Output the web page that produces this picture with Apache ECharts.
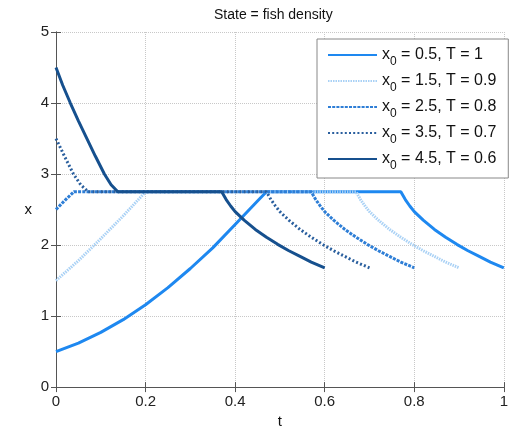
<!DOCTYPE html>
<html><head><meta charset="utf-8">
<script src="https://cdn.jsdelivr.net/npm/echarts@6/dist/echarts.min.js"></script>
<style>html,body{margin:0;padding:0;background:#fff}#c{width:511px;height:434px}</style>
</head><body><div id="c"></div>
<script>
// Tick values
const xTicks = [0, 0.2, 0.4, 0.6, 0.8, 1];
const yTicks = [0, 1, 2, 3, 4, 5];
const titleText = 'State = fish density';
const xName = 't';
const yName = 'x';

// Legend pieces
const legendX0 = ['0.5', '1.5', '2.5', '3.5', '4.5'];
const legendT = ['1', '0.9', '0.8', '0.7', '0.6'];

// Series 1: x0 = 0.5, T = 1
const t1 = [0, 0.05, 0.1, 0.15, 0.2, 0.25, 0.3, 0.35, 0.4, 0.45, 0.47, 0.77, 0.78, 0.79, 0.80, 0.82, 0.845, 0.87, 0.895, 0.92, 0.945, 0.97, 1.0];
const x1 = [0.5, 0.62, 0.77, 0.95, 1.16, 1.40, 1.67, 1.96, 2.29, 2.62, 2.75, 2.75, 2.64, 2.55, 2.47, 2.35, 2.22, 2.11, 2.01, 1.92, 1.84, 1.76, 1.68];
// Series 2: x0 = 1.5, T = 0.9
const t2 = [0, 0.05, 0.1, 0.15, 0.2, 0.67, 0.68, 0.69, 0.70, 0.72, 0.745, 0.77, 0.795, 0.82, 0.845, 0.87, 0.9];
const x2 = [1.5, 1.78, 2.09, 2.41, 2.75, 2.75, 2.64, 2.55, 2.47, 2.35, 2.22, 2.11, 2.01, 1.92, 1.84, 1.76, 1.68];
// Series 3: x0 = 2.5, T = 0.8
const t3 = [0, 0.02, 0.04, 0.57, 0.58, 0.59, 0.60, 0.62, 0.645, 0.67, 0.695, 0.72, 0.745, 0.77, 0.8];
const x3 = [2.5, 2.63, 2.75, 2.75, 2.64, 2.55, 2.47, 2.35, 2.22, 2.11, 2.01, 1.92, 1.84, 1.76, 1.68];
// Series 4: x0 = 3.5, T = 0.7
const t4 = [0, 0.019, 0.039, 0.055, 0.072, 0.47, 0.48, 0.49, 0.50, 0.52, 0.545, 0.57, 0.595, 0.62, 0.645, 0.67, 0.7];
const x4 = [3.5, 3.25, 3.0, 2.85, 2.75, 2.75, 2.64, 2.55, 2.47, 2.35, 2.22, 2.11, 2.01, 1.92, 1.84, 1.76, 1.68];
// Series 5: x0 = 4.5, T = 0.6
const t5 = [0, 0.015, 0.032, 0.05, 0.069, 0.088, 0.108, 0.123, 0.138, 0.37, 0.38, 0.39, 0.40, 0.42, 0.445, 0.47, 0.495, 0.52, 0.545, 0.57, 0.6];
const x5 = [4.5, 4.25, 4.0, 3.75, 3.5, 3.25, 3.0, 2.85, 2.75, 2.75, 2.64, 2.55, 2.47, 2.35, 2.22, 2.11, 2.01, 1.92, 1.84, 1.76, 1.68];

const allT = [t1, t2, t3, t4, t5];
const allX = [x1, x2, x3, x4, x5];
const colors = ['#1E88F0', '#A9D1F5', '#2E7ED6', '#2A5F9E', '#16508E'];
const dashes = ['solid', [1.5, 1], [3, 1.2], [2, 2.2], 'solid'];
const widths = [3, 3, 3, 3, 3];

const FONT = '"Liberation Sans", Arial, Helvetica, sans-serif';
const names = legendX0.map((v, i) => 'x0 = ' + v + ', T = ' + legendT[i]);

const series = allT.map((ts, i) => ({
  name: names[i],
  type: 'line',
  data: ts.map((t, j) => [t, allX[i][j]]),
  symbol: 'none',
  showSymbol: false,
  animation: false,
  lineStyle: { color: colors[i], width: widths[i], type: dashes[i] },
  itemStyle: { color: colors[i] }
}));

const axisCommonLine = { lineStyle: { color: '#555', width: 1 } };
const tickCommon = { inside: true, length: 5, lineStyle: { color: '#555' } };

const chart = echarts.init(document.getElementById('c'));
chart.setOption({
  backgroundColor: '#fff',
  animation: false,
  title: {
    text: titleText, left: 214, top: 8, padding: 0,
    textStyle: { fontFamily: FONT, fontSize: 14, fontWeight: 'normal', color: '#111' }
  },
  grid: { left: 56, right: 7, top: 32, bottom: 40, containLabel: false },
  legend: {
    orient: 'vertical', left: 317, top: 39,
    padding: [8, 12, 6, 10], itemGap: 5, itemWidth: 49, itemHeight: 14,
    backgroundColor: '#fff', borderColor: '#888', borderWidth: 1,
    itemStyle: { opacity: 0 },
    data: names,
    formatter: function (n) {
      const i = names.indexOf(n);
      return '{a|x}{s|0}{a| = ' + legendX0[i] + ', T = ' + legendT[i] + '}';
    },
    textStyle: {
      fontFamily: FONT, fontSize: 16, color: '#111',
      rich: {
        a: { fontFamily: FONT, fontSize: 16, color: '#111' },
        s: { fontFamily: FONT, fontSize: 12, color: '#111', padding: [14, 0, 0, 0] }
      }
    }
  },
  xAxis: [{
    type: 'value', position: 'bottom', min: xTicks[0], max: xTicks[xTicks.length - 1], interval: 0.2,
    name: xName, nameLocation: 'middle', nameGap: 22,
    nameTextStyle: { fontFamily: FONT, fontSize: 15, color: '#111' },
    axisLine: axisCommonLine, axisTick: tickCommon,
    axisLabel: { fontFamily: FONT, fontSize: 15, color: '#222', margin: 7 },
    splitLine: { show: true, lineStyle: { type: 'dotted', color: '#c8c8c8', width: 1 } }
  }, {
    type: 'value', position: 'top', min: xTicks[0], max: xTicks[xTicks.length - 1], interval: 0.2,
    axisLine: axisCommonLine, axisTick: tickCommon,
    axisLabel: { show: false }, splitLine: { show: false }
  }],
  yAxis: [{
    type: 'value', position: 'left', min: yTicks[0], max: yTicks[yTicks.length - 1], interval: 1,
    name: yName, nameLocation: 'middle', nameGap: 24, nameRotate: 0,
    nameTextStyle: { fontFamily: FONT, fontSize: 15, color: '#111' },
    axisLine: axisCommonLine, axisTick: tickCommon,
    axisLabel: { fontFamily: FONT, fontSize: 15, color: '#222', margin: 7 },
    splitLine: { show: true, lineStyle: { type: 'dotted', color: '#c8c8c8', width: 1 } }
  }, {
    type: 'value', position: 'right', min: yTicks[0], max: yTicks[yTicks.length - 1], interval: 1,
    axisLine: axisCommonLine, axisTick: tickCommon,
    axisLabel: { show: false }, splitLine: { show: false }
  }],
  series: series
});
</script>
</body></html>
